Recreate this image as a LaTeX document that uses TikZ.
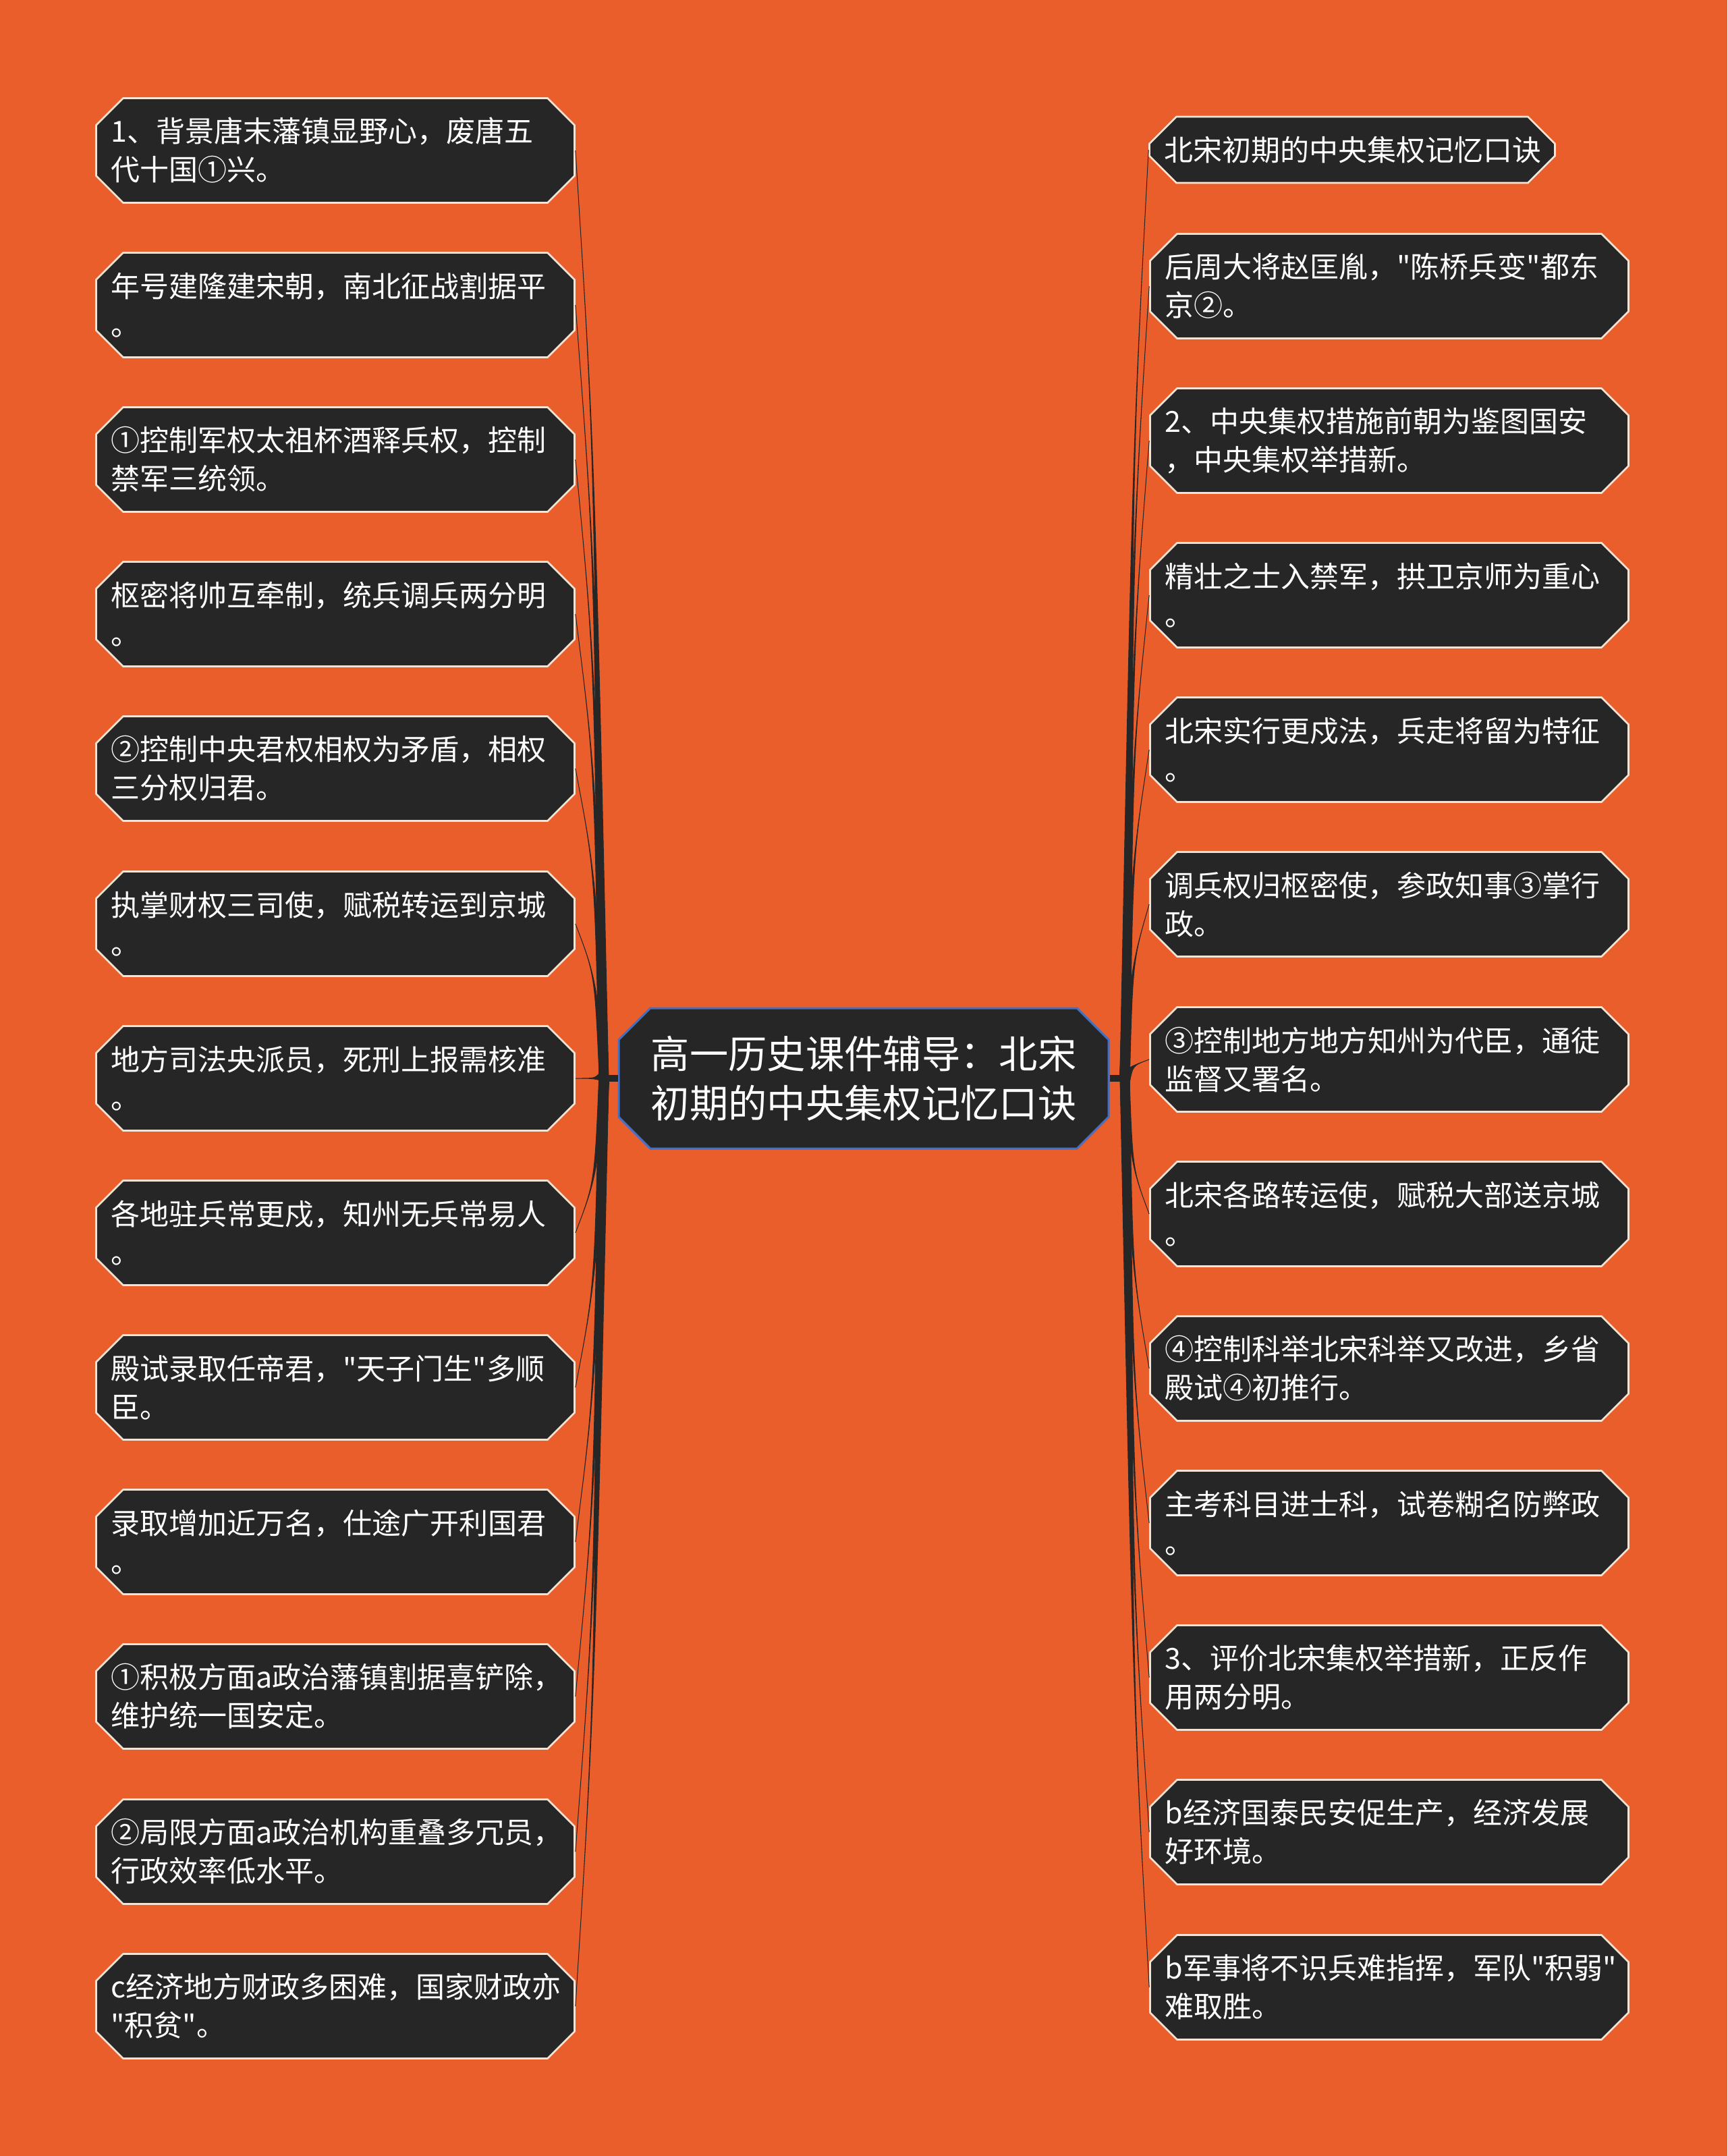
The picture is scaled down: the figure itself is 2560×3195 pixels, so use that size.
\documentclass[tikz,border=0pt]{standalone}
\usepackage{fontspec}
\setmainfont{Noto Sans CJK SC}[Ligatures=TeXOff]
\usetikzlibrary{shapes.misc,calc}

\definecolor{bgorange}{HTML}{E95E2A}
\definecolor{nodebg}{HTML}{262626}
\definecolor{leafline}{HTML}{F3E4D6}
\definecolor{rootline}{HTML}{4470C4}

\tikzset{
  leaf/.style={chamfered rectangle, chamfered rectangle xsep=6pt,
    chamfered rectangle ysep=6pt,
    draw=leafline, line width=0.8pt, fill=nodebg, text=white,
    text width=199.5pt, align=left, inner xsep=0.6pt, inner ysep=0pt,
    minimum height=46.5pt, font=\fontsize{12.9}{17.1}\selectfont},
  root/.style={chamfered rectangle, chamfered rectangle xsep=7pt,
    chamfered rectangle ysep=7pt,
    draw=rootline, line width=0.9pt, fill=nodebg, text=white,
    align=center, minimum width=217.8pt, minimum height=62.4pt,
    font=\fontsize{17.2}{22}\selectfont},
  stub/.style={draw=nodebg, line width=3pt},
  twig/.style={fill=nodebg, draw=nodebg, line width=0.3pt}
}

% tapered branch: hub, leaf anchor, half width
\newcommand{\twig}[3]{%
  \filldraw[twig] ($(#1)+(#3)$) .. controls ($(#1)!0.5!(#2)!0.35!(#1|-#2)$) .. (#2)
    .. controls ($(#1)!0.5!(#2)!0.35!(#1|-#2)$) .. ($(#1)-(#3)$) -- cycle;}

\begin{document}
\begin{tikzpicture}[x=0.3pt, y=-0.3pt]
  % Background
  \fill[bgorange] (0,0) rectangle (2560,3195);

  % Root
  \node[root] (root) at (1280,1598) {高一历史课件辅导：北宋\\初期的中央集权记忆口诀};

  % Left nodes
  \node[leaf] (L1) at (497,223) {1、背景唐末藩镇显野心，废唐五\\代十国①兴。};
  \node[leaf] (L2) at (497,452) {年号建隆建宋朝，南北征战割据平\\。};
  \node[leaf] (L3) at (497,681) {①控制军权太祖杯酒释兵权，控制\\禁军三统领。};
  \node[leaf] (L4) at (497,910) {枢密将帅互牵制，统兵调兵两分明\\。};
  \node[leaf] (L5) at (497,1139) {②控制中央君权相权为矛盾，相权\\三分权归君。};
  \node[leaf] (L6) at (497,1369) {执掌财权三司使，赋税转运到京城\\。};
  \node[leaf] (L7) at (497,1598) {地方司法央派员，死刑上报需核准\\。};
  \node[leaf] (L8) at (497,1827) {各地驻兵常更戍，知州无兵常易人\\。};
  \node[leaf] (L9) at (497,2056) {殿试录取任帝君，"天子门生"多顺\\臣。};
  \node[leaf] (L10) at (497,2285) {录取增加近万名，仕途广开利国君\\。};
  \node[leaf] (L11) at (497,2514) {①积极方面a政治藩镇割据喜铲除，\\维护统一国安定。};
  \node[leaf] (L12) at (497,2744) {②局限方面a政治机构重叠多冗员，\\行政效率低水平。};
  \node[leaf] (L13) at (497,2973) {c经济地方财政多困难，国家财政亦\\"积贫"。};

  % Right nodes
  \node[leaf, text width=167.1pt, minimum height=29.4pt] (R1) at (2004,222) {北宋初期的中央集权记忆口诀};
  \node[leaf] (R2) at (2059,424) {后周大将赵匡胤，"陈桥兵变"都东\\京②。};
  \node[leaf] (R3) at (2059,653) {2、中央集权措施前朝为鉴图国安\\，中央集权举措新。};
  \node[leaf] (R4) at (2059,882) {精壮之士入禁军，拱卫京师为重心\\。};
  \node[leaf] (R5) at (2059,1111) {北宋实行更戍法，兵走将留为特征\\。};
  \node[leaf] (R6) at (2059,1340) {调兵权归枢密使，参政知事③掌行\\政。};
  \node[leaf] (R7) at (2059,1570) {③控制地方地方知州为代臣，通徒\\监督又署名。};
  \node[leaf] (R8) at (2059,1799) {北宋各路转运使，赋税大部送京城\\。};
  \node[leaf] (R9) at (2059,2028) {④控制科举北宋科举又改进，乡省\\殿试④初推行。};
  \node[leaf] (R10) at (2059,2257) {主考科目进士科，试卷糊名防弊政\\。};
  \node[leaf] (R11) at (2059,2486) {3、评价北宋集权举措新，正反作\\用两分明。};
  \node[leaf] (R12) at (2059,2715) {b经济国泰民安促生产，经济发展\\好环境。};
  \node[leaf] (R13) at (2059,2945) {b军事将不识兵难指挥，军队"积弱"\\难取胜。};

  % Hubs
  \coordinate (hubL) at (895,1598);
  \coordinate (hubR) at (1667,1598);

  % Lines
  \draw[stub] (root.west) -- (hubL);
  \draw[stub] (root.east) -- (hubR);
  \foreach \n in {1,...,13} {
    \twig{hubL}{L\n.east}{7,7}
    \twig{hubR}{R\n.west}{7,7}
  }
\end{tikzpicture}
\end{document}
